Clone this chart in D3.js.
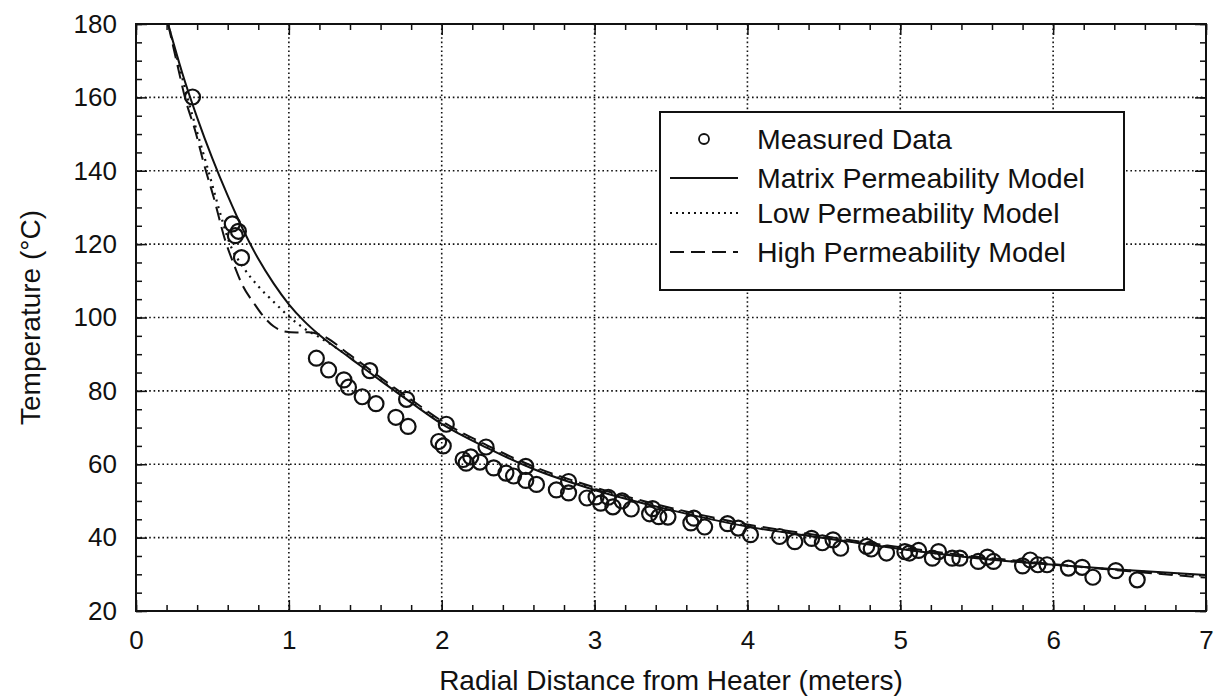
<!DOCTYPE html>
<html>
<head>
<meta charset="utf-8">
<script src="https://cdn.jsdelivr.net/npm/d3@7"></script>
<style>
  body { margin: 0; background: #fff; }
  text { font-family: "Liberation Sans", Arial, sans-serif; fill: #111; }
</style>
</head>
<body>
<div id="chart"></div>
<script>
        // Measured data (radial distance in m, temperature in C)
        const measuredDist = [0.37, 0.63, 0.67, 0.65, 0.69, 1.18, 1.26, 1.36, 1.39, 1.48, 1.53, 1.57, 1.70, 1.77, 1.78,
            1.98, 2.01, 2.03, 2.14, 2.16, 2.19, 2.25, 2.29, 2.34, 2.42, 2.47, 2.55, 2.55, 2.62, 2.75, 2.83, 2.83,
            2.95, 3.01, 3.04, 3.09, 3.12, 3.18, 3.24, 3.36, 3.38, 3.42, 3.48, 3.63, 3.65, 3.72, 3.87, 3.94, 4.02,
            4.21, 4.31, 4.42, 4.49, 4.56, 4.61, 4.78, 4.81, 4.91, 5.03, 5.06, 5.12, 5.21, 5.25, 5.34, 5.39, 5.51,
            5.57, 5.61, 5.80, 5.85, 5.90, 5.96, 6.10, 6.19, 6.26, 6.41, 6.55];
        const measuredTemp = [160.1, 125.5, 123.5, 122.3, 116.3, 88.9, 85.7, 83.0, 81.0, 78.4, 85.5, 76.5, 72.8, 77.7, 70.3,
            66.2, 65.0, 70.9, 61.3, 60.3, 62.0, 60.6, 64.7, 59.0, 57.6, 56.8, 59.4, 55.6, 54.5, 53.0, 55.3, 52.2,
            50.8, 51.1, 49.4, 51.0, 48.4, 50.0, 47.8, 46.5, 47.9, 45.7, 45.6, 44.0, 45.3, 42.9, 43.8, 42.6, 40.8,
            40.3, 38.9, 39.8, 38.6, 39.4, 37.1, 37.6, 36.9, 35.8, 36.2, 35.8, 36.5, 34.4, 36.2, 34.4, 34.4, 33.5,
            34.7, 33.5, 32.3, 33.9, 32.6, 32.6, 31.7, 31.9, 29.2, 31.0, 28.5];

        // Model curves [distance, temperature]
        const matrixModel = [[0.21, 180], [0.3, 167], [0.4, 154.5], [0.5, 143.3], [0.6, 133.2], [0.7, 124.0],
            [0.8, 116.0], [0.9, 109.3], [1.0, 103.6], [1.1, 99.0], [1.2, 95.2], [1.4, 89.0], [1.6, 82.8],
            [1.8, 76.8], [2.0, 71.0], [2.3, 64.4], [2.6, 58.7], [3.0, 53.0], [3.5, 47.5], [4.0, 43.0],
            [4.5, 39.9], [5.0, 36.9], [5.5, 34.4], [6.0, 32.6], [6.5, 31.1], [7.0, 29.8]];
        const lowModel = [[0.21, 180], [0.27, 170.5], [0.33, 161], [0.40, 150.5], [0.47, 140.5], [0.54, 130],
            [0.61, 120.5], [0.7, 113.8], [0.8, 108.5], [0.9, 104.3], [1.0, 100.3], [1.1, 97.0], [1.2, 94.6],
            [1.4, 89.2], [1.6, 83.0], [1.8, 77.0], [2.0, 71.2], [2.3, 64.6], [2.6, 58.9], [3.0, 53.2],
            [3.5, 47.7], [4.0, 43.2], [4.5, 40.0], [5.0, 37.0], [5.5, 34.5], [6.0, 32.6], [6.5, 31.0], [7.0, 29.6]];
        const highModel = [[0.21, 180], [0.27, 169], [0.32, 160], [0.39, 150.5], [0.45, 141], [0.51, 132.5],
            [0.58, 121.5], [0.64, 114.5], [0.70, 108.5], [0.77, 104], [0.83, 100.5], [0.9, 97.6], [0.97, 96.2],
            [1.05, 95.9], [1.13, 96.0], [1.2, 95.4], [1.4, 89.8], [1.6, 83.6], [1.8, 77.6], [2.0, 71.8],
            [2.3, 65.1], [2.6, 59.4], [3.0, 53.7], [3.5, 48.1], [4.0, 43.6], [4.5, 40.4], [5.0, 37.4],
            [5.5, 34.8], [6.0, 32.8], [6.5, 30.8], [7.0, 29.1]];

        const xTicks = [0, 1, 2, 3, 4, 5, 6, 7];
        const yTicks = [20, 40, 60, 80, 100, 120, 140, 160, 180];

        const legendItems = [
            { label: "Measured Data", type: "circle" },
            { label: "Matrix Permeability Model", type: "solid" },
            { label: "Low Permeability Model", type: "dotted" },
            { label: "High Permeability Model", type: "dashed" }
        ];

        // Chart dimensions
        const width = 1222;
        const height = 698;
        const margin = { left: 136, right: 16, top: 24, bottom: 87 };

        const svg = d3.select("#chart")
            .append("svg")
            .attr("width", width)
            .attr("height", height);

        const x = d3.scaleLinear().domain([0, 7]).range([margin.left, width - margin.right]);
        const y = d3.scaleLinear().domain([20, 180]).range([height - margin.bottom, margin.top]);

        const x0 = x.range()[0], x1 = x.range()[1];
        const y0 = y.range()[0], y1 = y.range()[1];

        // dotted grid
        const grid = svg.append("g").attr("stroke", "#111").attr("stroke-width", 1.6)
            .attr("stroke-dasharray", "1.6,2.8");
        grid.selectAll(".gx").data(xTicks.slice(1, -1)).enter().append("line")
            .attr("x1", d => x(d)).attr("x2", d => x(d)).attr("y1", y1).attr("y2", y0);
        grid.selectAll(".gy").data(yTicks.slice(1, -1)).enter().append("line")
            .attr("y1", d => y(d)).attr("y2", d => y(d)).attr("x1", x0).attr("x2", x1);

        // axes, ticks pointing inward on all four sides
        const xMinor = d3.range(0, 7.001, 0.2);
        const yMinor = d3.range(20, 180.001, 5);
        const axisStyle = g => {
            g.select(".domain").remove();
            g.selectAll("line").attr("stroke", "#111").attr("stroke-width", 1.5);
            g.selectAll("text").attr("font-size", 26).attr("fill", "#111");
        };

        svg.append("g").attr("transform", `translate(0,${y0})`)
            .call(d3.axisBottom(x).tickValues(xMinor).tickSize(-6).tickFormat(""))
            .call(axisStyle);
        svg.append("g").attr("transform", `translate(0,${y0})`)
            .call(d3.axisBottom(x).tickValues(xTicks).tickSize(-11).tickPadding(20).tickFormat(d3.format("d")))
            .call(axisStyle);
        svg.append("g").attr("transform", `translate(0,${y1})`)
            .call(d3.axisTop(x).tickValues(xMinor).tickSize(-6).tickFormat(""))
            .call(axisStyle);
        svg.append("g").attr("transform", `translate(0,${y1})`)
            .call(d3.axisTop(x).tickValues(xTicks).tickSize(-11).tickFormat(""))
            .call(axisStyle);
        svg.append("g").attr("transform", `translate(${x0},0)`)
            .call(d3.axisLeft(y).tickValues(yMinor).tickSize(-6).tickFormat(""))
            .call(axisStyle);
        svg.append("g").attr("transform", `translate(${x0},0)`)
            .call(d3.axisLeft(y).tickValues(yTicks).tickSize(-11).tickPadding(19).tickFormat(d3.format("d")))
            .call(axisStyle);
        svg.append("g").attr("transform", `translate(${x1},0)`)
            .call(d3.axisRight(y).tickValues(yMinor).tickSize(-6).tickFormat(""))
            .call(axisStyle);
        svg.append("g").attr("transform", `translate(${x1},0)`)
            .call(d3.axisRight(y).tickValues(yTicks).tickSize(-11).tickFormat(""))
            .call(axisStyle);

        // frame
        svg.append("rect")
            .attr("x", x0).attr("y", y1)
            .attr("width", x1 - x0).attr("height", y0 - y1)
            .attr("fill", "none").attr("stroke", "#111").attr("stroke-width", 2);

        // model lines
        const line = d3.line().x(d => x(d[0])).y(d => y(d[1])).curve(d3.curveMonotoneX);
        const plot = svg.append("g");
        plot.append("path").datum(lowModel).attr("d", line)
            .attr("fill", "none").attr("stroke", "#111").attr("stroke-width", 2.2)
            .attr("stroke-dasharray", "2,5");
        plot.append("path").datum(highModel).attr("d", line)
            .attr("fill", "none").attr("stroke", "#111").attr("stroke-width", 2)
            .attr("stroke-dasharray", "14,7");
        plot.append("path").datum(matrixModel).attr("d", line)
            .attr("fill", "none").attr("stroke", "#111").attr("stroke-width", 2);

        // measured circles
        plot.selectAll("circle.pt")
            .data(measuredDist.map((d, i) => [d, measuredTemp[i]]))
            .enter()
            .append("circle")
            .attr("class", "pt")
            .attr("cx", d => x(d[0]))
            .attr("cy", d => y(d[1]))
            .attr("r", 7.5)
            .attr("fill", "none")
            .attr("stroke", "#111")
            .attr("stroke-width", 2.2);

        // axis titles
        svg.append("text")
            .attr("x", (x0 + x1) / 2)
            .attr("y", 690)
            .attr("text-anchor", "middle")
            .attr("font-size", 28)
            .text("Radial Distance from Heater (meters)");
        svg.append("text")
            .attr("transform", `translate(40,${(y0 + y1) / 2}) rotate(-90)`)
            .attr("text-anchor", "middle")
            .attr("font-size", 28)
            .text("Temperature (°C)");

        // legend
        const legend = svg.append("g");
        legend.append("rect")
            .attr("x", 660).attr("y", 112)
            .attr("width", 464).attr("height", 178)
            .attr("fill", "#fff").attr("stroke", "#111").attr("stroke-width", 2);
        const rowY = [139, 178, 213, 252];
        legendItems.forEach((item, i) => {
            const cy = rowY[i];
            if (item.type === "circle") {
                legend.append("circle").attr("cx", 704).attr("cy", cy).attr("r", 5)
                    .attr("fill", "none").attr("stroke", "#111").attr("stroke-width", 1.8);
            } else {
                legend.append("line").attr("x1", 670).attr("x2", 738).attr("y1", cy).attr("y2", cy)
                    .attr("stroke", "#111").attr("stroke-width", item.type === "solid" ? 2 : 1.8)
                    .attr("stroke-dasharray", item.type === "dotted" ? "2,4" : item.type === "dashed" ? "14,7" : null);
            }
            legend.append("text")
                .attr("x", 757).attr("y", cy + 10)
                .attr("font-size", 28.5)
                .text(item.label);
        });
</script>
</body>
</html>
